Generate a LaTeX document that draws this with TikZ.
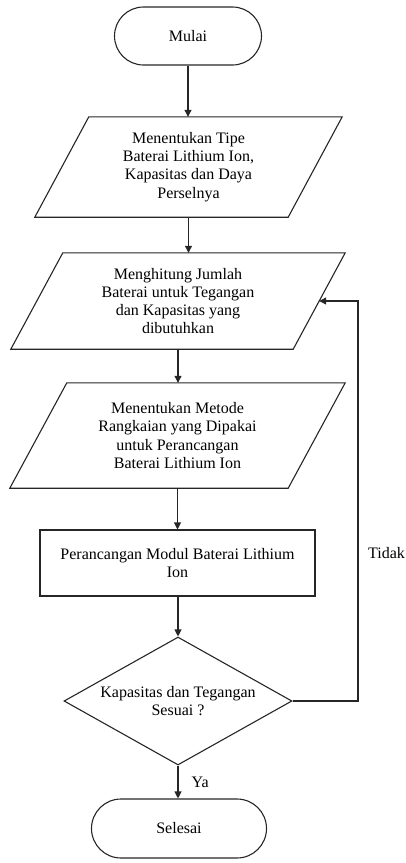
\documentclass[tikz,border=0pt]{standalone}
\usepackage{fontspec}
\setmainfont{Liberation Serif}
\usetikzlibrary{arrows.meta,shapes.geometric}
\begin{document}
\begin{tikzpicture}[x=1pt,y=-1pt,
  font=\fontsize{16}{18.3}\selectfont,
  line/.style={draw=black!85, line width=1.1pt},
  arrow/.style={line, -{Triangle[length=7pt,width=7pt]}},
  term/.style={line, rectangle, rounded corners=29pt, minimum width=147pt, minimum height=58pt, inner sep=0pt},
  txt/.style={rectangle, align=center, inner sep=0pt},
  procbox/.style={line, rectangle, align=center, inner sep=0pt},
  decide/.style={line, diamond, aspect=1.78, inner sep=0pt, align=center, minimum width=228pt, minimum height=128pt},
  lbl/.style={inner sep=0pt, anchor=west}]
\useasboundingbox (0,0) rectangle (406,863);

\node[term] (start) at (188,36) {Mulai};

\node[txt, minimum width=253pt, minimum height=100pt] (p1) at (188.5,167)
  {Menentukan Tipe\\Baterai Lithium Ion,\\Kapasitas dan Daya\\Perselnya};
\draw[line] ([xshift=27pt]p1.north west) -- ([xshift=27pt]p1.north east)
  -- ([xshift=-27pt]p1.south east) -- ([xshift=-27pt]p1.south west) -- cycle;

\node[txt, minimum width=282pt, minimum height=96pt] (p2) at (178,301)
  {Menghitung Jumlah\\Baterai untuk Tegangan\\dan Kapasitas yang\\dibutuhkan};
\draw[line] ([xshift=26pt]p2.north west) -- ([xshift=26pt]p2.north east)
  -- ([xshift=-26pt]p2.south east) -- ([xshift=-26pt]p2.south west) -- cycle;

\node[txt, minimum width=278pt, minimum height=105pt] (p3) at (177.5,435.5)
  {Menentukan Metode\\Rangkaian yang Dipakai\\untuk Perancangan\\Baterai Lithium Ion};
\draw[line] ([xshift=28.5pt]p3.north west) -- ([xshift=28.5pt]p3.north east)
  -- ([xshift=-28.5pt]p3.south east) -- ([xshift=-28.5pt]p3.south west) -- cycle;

\node[procbox, minimum width=275pt, minimum height=66pt] (r) at (177.5,563)
  {Perancangan Modul Baterai Lithium\\Ion};

\node[decide] (d) at (178,701) {Kapasitas dan Tegangan\\Sesuai ?};

\node[term, rounded corners=29.5pt, minimum width=175pt, minimum height=59pt] (s) at (179,828.5) {Selesai};

\draw[arrow] (start.south) -- (start.south |- p1.north);
\draw[arrow] (p1.south) -- (p1.south |- p2.north);
\draw[arrow] (p2.south) -- (p2.south |- p3.north);
\draw[arrow] (p3.south) -- (p3.south |- r.north);
\draw[arrow] (d.north |- r.south) -- (d.north);
\draw[arrow] (d.south) -- node[lbl, xshift=13pt] (ya) {Ya} (d.south |- s.north);

\coordinate (loop) at (358,701);
\draw[arrow] (d.east) -- (loop) |- (p2.east);
\node[lbl] (tidak) at (368,553) {Tidak};
\end{tikzpicture}
\end{document}
